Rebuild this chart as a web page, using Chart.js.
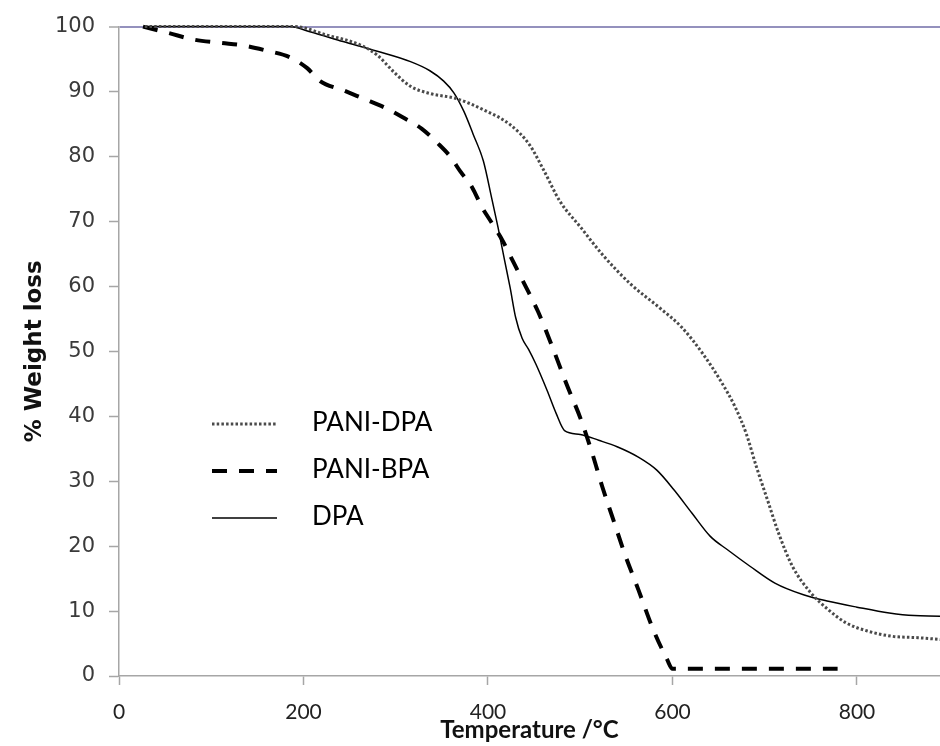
<!DOCTYPE html>
<html>
<head>
<meta charset="utf-8">
<script src="https://cdn.jsdelivr.net/npm/chart.js@4/dist/chart.umd.min.js"></script>
<style>
  html, body { margin: 0; padding: 0; background: #fff; }
  #wrap { width: 940px; height: 746px; }
</style>
</head>
<body>
<div id="wrap"><canvas id="tga" width="940" height="746"></canvas></div>
<script>
// --- data ---
let seriesNames = ["PANI-DPA", "PANI-BPA", "DPA"];

let dpaPaniTemp = [28, 100, 190, 225, 261, 280, 298, 316, 337, 366, 395, 424, 445, 460, 478, 501, 524, 555, 586, 610, 633, 652, 668, 680, 691, 703, 715, 730, 750, 769, 788, 812, 839, 866, 892, 900];
let dpaPaniLoss = [100, 100, 100, 98.7, 97.2, 95.6, 93, 90.8, 89.7, 88.9, 87.2, 84.9, 81.8, 78, 73.1, 69, 64.9, 60.3, 56.7, 53.7, 49.6, 45.5, 41.4, 37.3, 32.2, 27.1, 22, 16.9, 12.8, 10.2, 8.2, 6.9, 6.1, 5.9, 5.6, 5.5];

let bpaPaniTemp = [26, 54, 81, 110, 135, 160, 185, 204, 218, 243, 265, 287, 308, 328, 345, 359, 370, 383, 393, 404, 416, 428, 439, 454, 470, 485, 501, 513, 524, 536, 548, 563, 579, 594, 600, 779];
let bpaPaniLoss = [100, 99, 98, 97.5, 97.1, 96.3, 95.3, 93.6, 91.6, 90.2, 88.9, 87.6, 86, 84.3, 82.1, 80, 77.7, 75.2, 72.3, 69.8, 67, 63.6, 60.5, 56.2, 50.6, 45, 39.4, 34.3, 29.1, 24, 18.9, 13.3, 7.2, 2.6, 1.1, 1.1];

let dpaTemp = [28, 100, 185, 207, 243, 280, 316, 337, 352, 363, 374, 384, 395, 404, 411, 418, 424, 430, 437, 444, 452, 464, 474, 483, 500, 520, 540, 563, 583, 602, 621, 641, 660, 684, 711, 742, 769, 800, 835, 862, 892, 900];
let dpaLoss = [100, 100, 100, 99.2, 97.7, 96.2, 94.6, 93.2, 91.6, 89.8, 86.9, 83.4, 79.3, 73.6, 69, 64, 59.8, 55.2, 52, 50.3, 48, 44, 40.4, 37.8, 37.2, 36.3, 35.3, 33.7, 31.7, 28.6, 25.1, 21.5, 19.4, 16.9, 14.3, 12.5, 11.5, 10.6, 9.7, 9.3, 9.2, 9.1];

let xTicks = [0, 200, 400, 600, 800];
let yTicks = [0, 10, 20, 30, 40, 50, 60, 70, 80, 90, 100];

function pairUp(xs, ys) {
  return xs.map((x, i) => ({ x: x, y: ys[i] }));
}

// legend drawn inside the plot, left side
const insideLegend = {
  id: 'insideLegend',
  afterDatasetsDraw(chart) {
    const c = chart.ctx;
    const rows = [424, 471, 518];
    c.save();
    chart.data.datasets.forEach((ds, i) => {
      c.beginPath();
      c.strokeStyle = ds.borderColor;
      c.lineWidth = ds.borderWidth;
      c.setLineDash(ds.borderDash || []);
      c.moveTo(212, rows[i]);
      c.lineTo(277, rows[i]);
      c.stroke();
      c.setLineDash([]);
      c.fillStyle = '#000';
      c.font = '26px Lato, "Open Sans", sans-serif';
      c.textBaseline = 'middle';
      c.fillText(ds.label, 312, rows[i] - 1);
    });
    c.restore();
  }
};

new Chart(document.getElementById('tga'), {
  type: 'line',
  data: {
    datasets: [
      {
        label: seriesNames[0],
        data: pairUp(dpaPaniTemp, dpaPaniLoss),
        borderColor: '#4a4a4a',
        borderWidth: 3,
        borderDash: [2.5, 2.2],
        pointRadius: 0,
        cubicInterpolationMode: 'monotone',
        clip: 6
      },
      {
        label: seriesNames[1],
        data: pairUp(bpaPaniTemp, bpaPaniLoss),
        borderColor: '#000000',
        borderWidth: 4,
        borderDash: [15, 12],
        pointRadius: 0,
        cubicInterpolationMode: 'monotone',
        clip: 6
      },
      {
        label: seriesNames[2],
        data: pairUp(dpaTemp, dpaLoss),
        borderColor: '#000000',
        borderWidth: 1.5,
        pointRadius: 0,
        cubicInterpolationMode: 'monotone',
        clip: 6
      }
    ]
  },
  options: {
    responsive: false,
    animation: false,
    layout: { padding: { top: 25, right: 0, left: 0, bottom: 0 } },
    plugins: {
      legend: { display: false },
      tooltip: { enabled: false }
    },
    scales: {
      x: {
        type: 'linear',
        min: 0,
        max: 890,
        afterFit(s) { s.height = 70; },
        afterBuildTicks(s) { s.ticks = xTicks.map(v => ({ value: v })); },
        ticks: {
          includeBounds: false,
          autoSkip: false,
          maxRotation: 0,
          padding: 15,
          color: '#222',
          font: { family: 'Lato, "Open Sans", sans-serif', size: 21 }
        },
        grid: {
          color: 'rgba(0,0,0,0)',
          tickColor: '#a6a6a6',
          tickLength: 9,
          tickWidth: 1.5
        },
        border: { color: '#a6a6a6', width: 1.5 },
        title: {
          display: true,
          text: 'Temperature /°C',
          color: '#111',
          font: { family: 'Lato, "Open Sans", sans-serif', size: 24, weight: 'bold' },
          padding: { top: 0, bottom: 1 }
        }
      },
      y: {
        min: 0,
        max: 100,
        afterFit(s) { s.width = 119; },
        afterBuildTicks(s) { s.ticks = yTicks.map(v => ({ value: v })); },
        ticks: {
          padding: 14,
          color: '#3a3a3a',
          font: { family: '"DejaVu Sans", Verdana, sans-serif', size: 21 }
        },
        grid: {
          color: ctx => (ctx.tick && ctx.tick.value === 100) ? '#9491bd' : 'rgba(0,0,0,0)',
          lineWidth: ctx => (ctx.tick && ctx.tick.value === 100) ? 2 : 1,
          tickColor: '#a6a6a6',
          tickLength: 10,
          tickWidth: 1.5
        },
        border: { color: '#a6a6a6', width: 1.5 },
        title: {
          display: true,
          text: '% Weight loss',
          color: '#111',
          font: { family: '"DejaVu Sans", Verdana, sans-serif', size: 23, weight: 'bold' },
          padding: { top: 21, bottom: 0 }
        }
      }
    }
  },
  plugins: [insideLegend]
});
</script>
</body>
</html>
